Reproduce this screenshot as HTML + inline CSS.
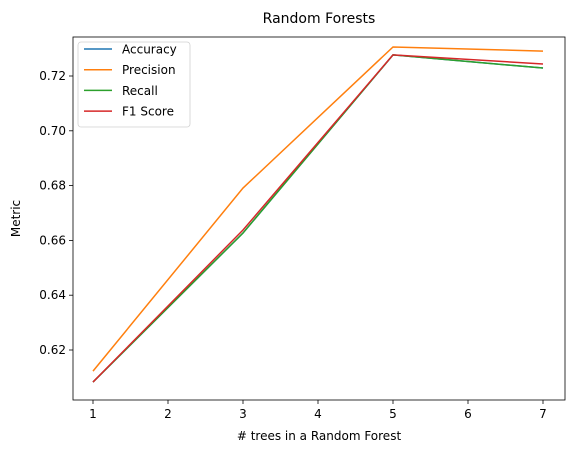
<!DOCTYPE html>
<html><head><meta charset="utf-8">
<style>
body{margin:0;background:#fff;font-family:"Liberation Sans","DejaVu Sans",sans-serif;}
svg text{font-family:"DejaVu Sans","Liberation Sans",sans-serif;fill:#000;}
</style></head>
<body>
<svg id="chart" width="576" height="453" xmlns="http://www.w3.org/2000/svg"></svg>
<script>
const categories = [1, 3, 5, 7];
const accuracy = [0.6083, 0.6627, 0.7277, 0.7229];
const precision = [0.6123, 0.6791, 0.7306, 0.7291];
const recall = [0.6083, 0.6627, 0.7277, 0.7229];
const f1 = [0.6083, 0.6638, 0.7277, 0.7244];
const xTicks = [1, 2, 3, 4, 5, 6, 7];
const yTicks = [0.62, 0.64, 0.66, 0.68, 0.70, 0.72];

const NS = "http://www.w3.org/2000/svg";
const svg = document.getElementById("chart");
const L = 73, R = 565, T = 37, B = 400;
function xs(v){ return 93 + (v - 1) * 75; }
function ys(v){ return 350 - (v - 0.62) * 2740; }
function mk(tag, attrs, parent){
  const e = document.createElementNS(NS, tag);
  for (const k in attrs) e.setAttribute(k, attrs[k]);
  (parent || svg).appendChild(e);
  return e;
}

const title = mk("text", {x: (L+R)/2, y: 23, "text-anchor": "middle", "font-size": 14});
title.textContent = "Random Forests";



xTicks.forEach(t => {
  const g = mk("g", {});
  
  
  mk("line", {x1: xs(t), x2: xs(t), y1: B, y2: B+4, stroke: "#000", "stroke-width": 0.8}, g);
  const tx = mk("text", {x: xs(t), y: B+18, "text-anchor": "middle", "font-size": 12}, g);
  tx.textContent = t;
});
yTicks.forEach(t => {
  const g = mk("g", {});
  
  
  mk("line", {x1: L-4, x2: L, y1: ys(t), y2: ys(t), stroke: "#000", "stroke-width": 0.8}, g);
  const tx = mk("text", {x: L-7, y: ys(t)+4, "text-anchor": "end", "font-size": 12}, g);
  tx.textContent = t.toFixed(2);
});

const xl = mk("text", {x: (L+R)/2, y: 440, "text-anchor": "middle", "font-size": 12});
xl.textContent = "# trees in a Random Forest";


const yl = mk("text", {x: 20, y: (T+B)/2, "text-anchor": "middle", "font-size": 12, transform: "rotate(-90 20 " + (T+B)/2 + ")"});
yl.textContent = "Metric";



const series = [
  {name: "Accuracy", vals: accuracy, color: "#1f77b4"},
  {name: "Precision", vals: precision, color: "#ff7f0e"},
  {name: "Recall", vals: recall, color: "#2ca02c"},
  {name: "F1 Score", vals: f1, color: "#d62728"}
];
series.forEach(s => {
  const pts = categories.map((c, i) => xs(c) + "," + ys(s.vals[i])).join(" ");
  const pl = mk("polyline", {points: pts, fill: "none", stroke: s.color, "stroke-width": 1.5});
  
  
});

const frame = mk("rect", {x: L, y: T, width: R-L, height: B-T, fill: "none", stroke: "#000", "stroke-width": 0.8});



const lg = mk("g", {});


mk("rect", {x: 78, y: 37+5, width: 112, height: 85, rx: 3, fill: "#fff", stroke: "#ccc", "stroke-width": 0.8, opacity: 0.9}, lg);
series.forEach((s, i) => {
  const y = 49 + i * 20.7;
  const e = mk("g", {}, lg);
  
  
  mk("line", {x1: 84, x2: 112, y1: y, y2: y, stroke: s.color, "stroke-width": 1.5}, e);
  const t = mk("text", {x: 122, y: y+4.5, "font-size": 12}, e);
  t.textContent = s.name;
});
</script>
</body></html>
